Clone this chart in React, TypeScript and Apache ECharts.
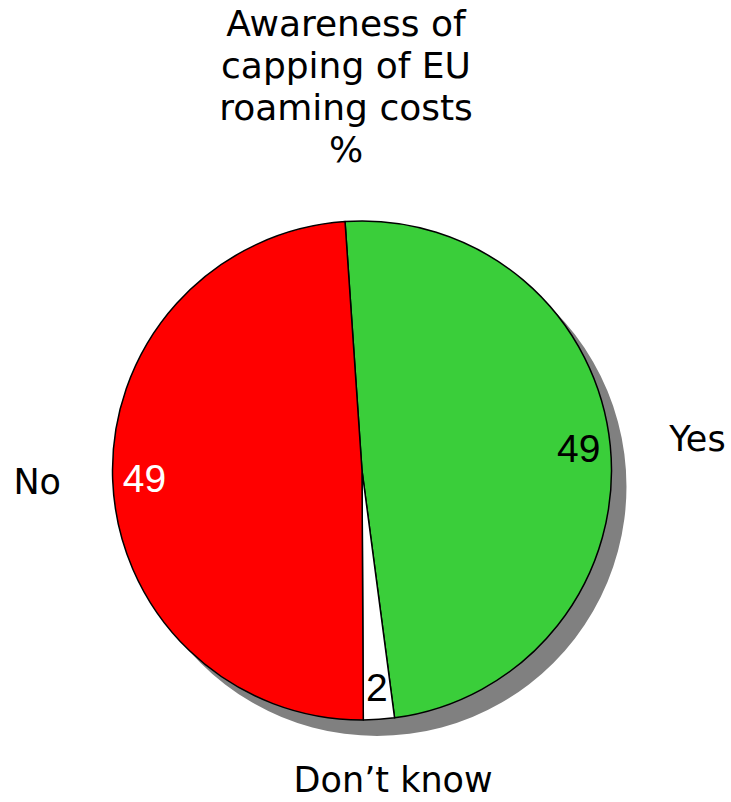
import React, { useEffect, useRef } from "react";
import * as echarts from "echarts";

const titleLines = ["Awareness of", "capping of EU", "roaming costs", "%"];
const categories = ["Yes", "Don\u2019t know", "No"];
const values = [49, 2, 49];
const sliceColors = ["#3ACE3A", "#FFFFFF", "#FF0000"];
const valueLabelColors = ["#000000", "#000000", "#FFFFFF"];
const nameLabelShift = [
  [12, 1],
  [9, -15],
  [0, 0],
];

export default function App() {
  const ref = useRef<HTMLDivElement>(null);
  useEffect(() => {
    if (!ref.current) return;
    const chart = echarts.init(ref.current, null, { renderer: "svg" });
    const center = [362, 470.5];
    const r = 249.5;
    const startAngle = 93.9;
    const transparent = { color: "rgba(0,0,0,0)", borderWidth: 0 };
    chart.setOption({
      animation: false,
      backgroundColor: "#ffffff",
      title: {
        text: titleLines.join("\n"),
        left: 346,
        top: 2,
        padding: 0,
        textAlign: "center",
        textStyle: {
          fontFamily: "DejaVu Sans",
          fontSize: 36,
          fontWeight: "normal",
          lineHeight: 42,
          color: "#000000",
        },
      },
      series: [
        {
          type: "pie",
          silent: true,
          center: [center[0] + 15, center[1] + 16],
          radius: [0, r],
          label: { show: false },
          labelLine: { show: false },
          emphasis: { disabled: true },
          data: [{ value: 100, itemStyle: { color: "#808080", borderWidth: 0 } }],
        },
        {
          type: "pie",
          silent: true,
          center,
          radius: [0, r],
          startAngle,
          clockwise: true,
          label: { show: false },
          labelLine: { show: false },
          emphasis: { disabled: true },
          itemStyle: { borderColor: "#000000", borderWidth: 1.5 },
          data: categories.map((c, i) => ({
            name: c,
            value: values[i],
            itemStyle: { color: sliceColors[i] },
          })),
        },
        {
          type: "pie",
          silent: true,
          center,
          radius: [180, r],
          startAngle,
          clockwise: true,
          itemStyle: transparent,
          emphasis: { disabled: true },
          labelLine: { show: false },
          label: {
            show: true,
            position: "inside",
            formatter: "{c}",
            fontFamily: "Liberation Sans",
            fontSize: 39,
          },
          data: categories.map((c, i) => ({
            name: c,
            value: values[i],
            label: { color: valueLabelColors[i] },
          })),
        },
        {
          type: "pie",
          silent: true,
          center,
          radius: [300, 344],
          startAngle,
          clockwise: true,
          itemStyle: transparent,
          emphasis: { disabled: true },
          labelLine: { show: false },
          label: {
            show: true,
            position: "inside",
            formatter: "{b}",
            fontFamily: "DejaVu Sans",
            fontSize: 35,
            lineHeight: 36,
            color: "#000000",
          },
          labelLayout: (p: any) => ({
            dx: nameLabelShift[p.dataIndex][0],
            dy: nameLabelShift[p.dataIndex][1],
          }),
          data: categories.map((c, i) => ({ name: c, value: values[i] })),
        },
      ],
    });
    return () => chart.dispose();
  }, []);
  return (
    <div
      ref={ref}
      style={{ position: "fixed", left: 0, top: 0, width: 731, height: 802 }}
    />
  );
}
